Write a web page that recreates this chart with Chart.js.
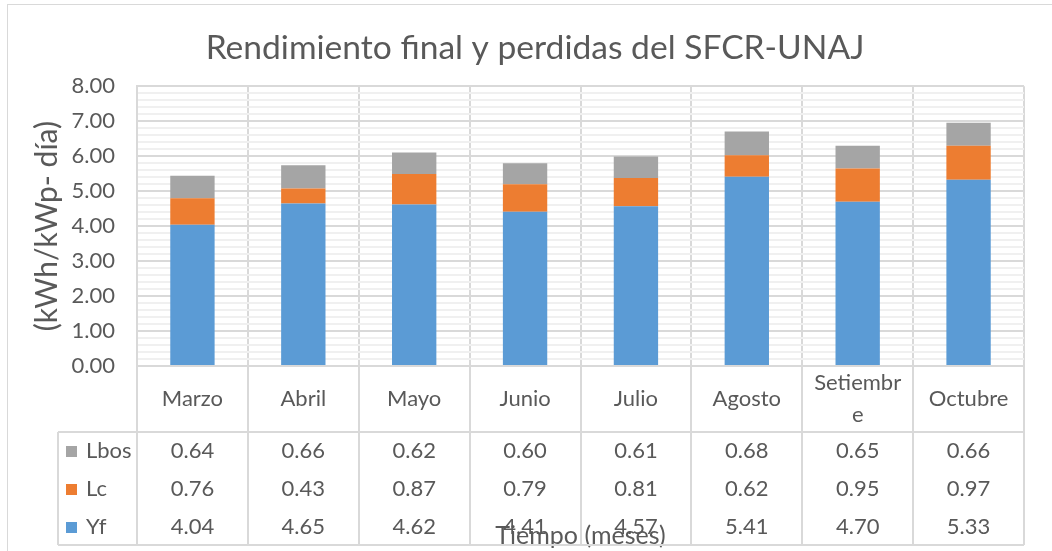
<!DOCTYPE html>
<html lang="es">
<head>
<meta charset="utf-8">
<title>Rendimiento final y perdidas del SFCR-UNAJ</title>
<script src="https://cdn.jsdelivr.net/npm/chart.js@4.4.1/dist/chart.umd.min.js"></script>
<style>
  html, body { margin: 0; padding: 0; background: #fff; }
  canvas { display: block; }
</style>
</head>
<body>
<canvas id="yieldChart" width="1052" height="551"></canvas>
<script>
/* === Rendimiento final SFCR-UNAJ: stacked bars + data table === */

(function () {
  'use strict';

  /* global Chart */

  var months = ['Marzo', 'Abril', 'Mayo', 'Junio', 'Julio', 'Agosto', 'Setiembre', 'Octubre'];
  var yf = [4.04, 4.65, 4.62, 4.41, 4.57, 5.41, 4.70, 5.33];
  var lc = [0.76, 0.43, 0.87, 0.79, 0.81, 0.62, 0.95, 0.97];
  var lbos = [0.64, 0.66, 0.62, 0.60, 0.61, 0.68, 0.65, 0.66];

  var yMax = 8;
  var yMinorStep = 0.2;

  var textColor = '#595959';
  var gridMajor = '#d9d9d9';
  var gridMinor = '#f0f0f0';
  var fontFamily = "Lato, 'Open Sans', sans-serif";
  var tableFont = '22px ' + fontFamily;

  function isMajor(v) {
    return Math.abs(v - Math.round(v)) < 1e-6;
  }

  // break a header label char by char when it is wider than the cell
  function wrapLabel(ctx, text, maxWidth) {
    if (ctx.measureText(text).width <= maxWidth) return [text];
    var lines = [];
    var line = '';
    for (var i = 0; i < text.length; i++) {
      if (line && ctx.measureText(line + text[i]).width > maxWidth) {
        lines.push(line);
        line = '';
      }
      line += text[i];
    }
    lines.push(line);
    return lines;
  }

  var frame = {
    id: 'frame',
    beforeDraw: function (chart) {
      var ctx = chart.ctx;
      ctx.save();
      ctx.fillStyle = '#fff';
      ctx.fillRect(0, 0, chart.width, chart.height);
      ctx.strokeStyle = gridMajor;
      ctx.lineWidth = 1;
      ctx.strokeRect(7.5, 4.5, chart.width + 20, chart.height + 20);
      ctx.restore();
    }
  };

  // Excel-style data table under the plot
  var dataTable = {
    id: 'dataTable',
    afterDraw: function (chart) {
      var ctx = chart.ctx;
      var area = chart.chartArea;
      var xs = chart.scales.x;
      var colW = (area.right - area.left) / months.length;
      var headerBottom = area.bottom + 66;
      var rowH = 38;
      var tableBottom = headerBottom + rowH * 3 - 1;
      var keyLeft = 58;
      var i;

      ctx.save();
      ctx.strokeStyle = gridMajor;
      ctx.lineWidth = 2;
      ctx.beginPath();
      for (i = 0; i <= months.length; i++) {
        var bx = Math.round(area.left + colW * i);
        ctx.moveTo(bx, area.bottom);
        ctx.lineTo(bx, tableBottom);
      }
      ctx.moveTo(keyLeft, headerBottom);
      ctx.lineTo(area.right, headerBottom);
      ctx.moveTo(keyLeft, tableBottom);
      ctx.lineTo(area.right, tableBottom);
      ctx.moveTo(keyLeft, headerBottom);
      ctx.lineTo(keyLeft, tableBottom);
      ctx.stroke();

      ctx.font = tableFont;
      ctx.fillStyle = textColor;
      ctx.textAlign = 'center';
      ctx.textBaseline = 'middle';

      var headerMid = (area.bottom + headerBottom) / 2;
      months.forEach(function (m, idx) {
        var cx = xs.getPixelForValue(idx);
        var lines = wrapLabel(ctx, m, colW * 0.82);
        var lh = 32;
        var y0 = headerMid - (lines.length - 1) * lh / 2;
        lines.forEach(function (ln, j) {
          ctx.fillText(ln, cx, y0 + j * lh);
        });
      });

      var rows = chart.data.datasets.slice().reverse();
      rows.forEach(function (ds, r) {
        var cy = headerBottom + rowH * r + rowH / 2;
        ctx.fillStyle = ds.backgroundColor;
        ctx.fillRect(66, cy - 5, 11, 11);
        ctx.fillStyle = textColor;
        ctx.textAlign = 'left';
        ctx.fillText(ds.label, 86, cy);
        ctx.textAlign = 'center';
        ds.data.forEach(function (v, idx) {
          ctx.fillText(v.toFixed(2), xs.getPixelForValue(idx), cy);
        });
      });
      ctx.restore();
    }
  };

  new Chart(document.getElementById('yieldChart'), {
    type: 'bar',
    data: {
      labels: months,
      datasets: [
        { label: 'Yf', data: yf, backgroundColor: '#5b9bd5' },
        { label: 'Lc', data: lc, backgroundColor: '#ed7d31' },
        { label: 'Lbos', data: lbos, backgroundColor: '#a5a5a5' }
      ]
    },
    options: {
      responsive: false,
      animation: false,
      barPercentage: 0.4,
      categoryPercentage: 1,
      // wide left padding keeps the title centred on the whole frame
      layout: { padding: { top: 0, left: 46, right: 28, bottom: 0 } },
      plugins: {
        legend: { display: false },
        tooltip: { enabled: false },
        title: {
          display: true,
          text: 'Rendimiento final y perdidas del SFCR-UNAJ',
          color: textColor,
          font: { family: fontFamily, size: 33.6, weight: 'normal', lineHeight: 1.2 },
          padding: { top: 28, bottom: 18 }
        }
      },
      scales: {
        x: {
          stacked: true,
          afterFit: function (scale) { scale.height = 185; },
          ticks: { display: false },
          grid: { color: gridMajor, lineWidth: 2, drawTicks: false, offset: true },
          border: { color: gridMajor, width: 2 },
          title: {
            display: true,
            text: 'Tiempo (meses)',
            color: textColor,
            font: { family: fontFamily, size: 25, lineHeight: 1.2 },
            padding: { top: 0, bottom: 0 }
          }
        },
        y: {
          stacked: true,
          min: 0,
          max: yMax,
          afterFit: function (scale) { scale.width = 91; },
          ticks: {
            stepSize: yMinorStep,
            autoSkip: false,
            padding: 22,
            color: textColor,
            font: { family: fontFamily, size: 22 },
            callback: function (v) { return isMajor(v) ? v.toFixed(2) : ''; }
          },
          grid: {
            drawTicks: false,
            color: function (c) { return isMajor(c.tick.value) ? gridMajor : gridMinor; },
            lineWidth: 2
          },
          border: { color: gridMajor, width: 2 },
          title: {
            display: true,
            text: '(kWh/kWp- día)',
            color: textColor,
            font: { family: fontFamily, size: 30, lineHeight: 1.2 },
            padding: { top: -17, bottom: 0 }
          }
        }
      }
    },
    plugins: [frame, dataTable]
  });
})();
</script>
</body>
</html>
